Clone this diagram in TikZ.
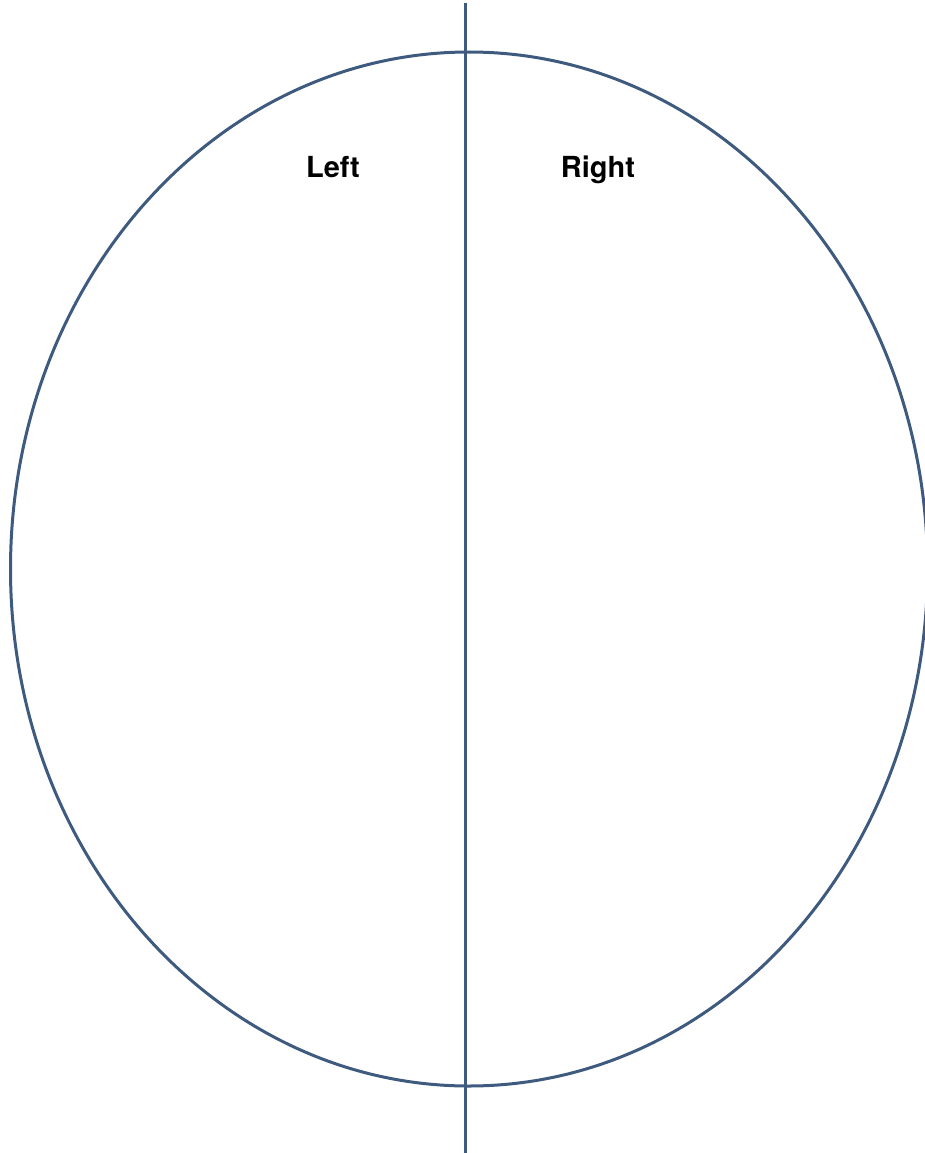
\documentclass[tikz,border=0pt]{standalone}
\usepackage{fontspec}
\setmainfont{TeX Gyre Heros}
\definecolor{linecol}{RGB}{62,90,127}
\begin{document}
\begin{tikzpicture}[x=1pt,y=-1pt,
  outline/.style={draw=linecol,line width=3pt},
  label/.style={font=\fontsize{29}{31}\selectfont\bfseries,text=black,inner sep=0pt,anchor=base}]
\useasboundingbox (0,0) rectangle (924,1153);
\draw[outline] (469,569) ellipse [x radius=458.5, y radius=517];
\coordinate (top) at (465.5,3);
\coordinate (bot) at (465.5,1153);
\draw[outline] (top) -- (bot);
\node[label] (left) at (333,177) {Left};
\node[label] (right) at (598,177) {Right};
\end{tikzpicture}
\end{document}
